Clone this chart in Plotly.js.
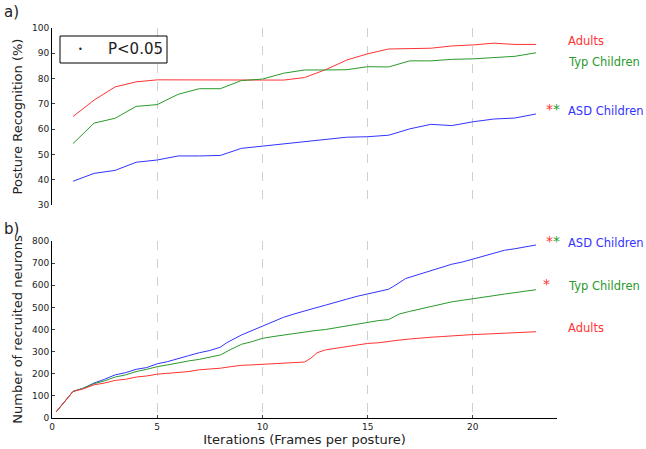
<!DOCTYPE html>
<html><head><script src="https://cdn.plot.ly/plotly-3.0.1.min.js"></script></head>
<body style="margin:0"><div id="chart" style="width:646px;height:449px"></div>
<script>
// panel a) posture recognition, x = 1..23
var itA = [1,2,3,4,5,6,7,8,9,10,11,12,13,14,15,16,17,18,19,20,21,22,23];
var recAdults = [65,71.5,76.7,78.7,79.5,79.5,79.5,79.3,79.3,79.3,79.4,80.4,83.5,87.3,89.8,91.7,91.9,92,92.9,93.3,94,93.5,93.5];
var recTyp = [54.3,62.4,64.3,69,69.7,73.8,76,76,79.2,79.8,82.1,83.4,83.4,83.5,84.7,84.6,87,87,87.6,87.8,88.3,88.8,90.2];
var recASD = [39.4,42.5,43.7,46.9,47.8,49.4,49.4,49.6,52.4,53.3,54.2,55.1,55.9,56.8,57,57.6,60.1,61.9,61.4,62.9,64,64.4,66];

// panel b) recruited neurons
var itASD = [0.2,1,1.5,2,2.5,3,3.5,4,4.5,5,5.5,6,6.5,7,7.5,8,8.3,9,9.5,10,10.5,11,11.5,12,12.5,13,13.5,14,14.5,15,15.5,16,16.4,16.8,17.3,18,18.5,19,19.5,20,20.5,21,21.5,22,22.5,23];
var neuASD = [28,120,135,158,175,195,205,220,228,245,255,270,282,295,305,320,340,375,395,418,435,455,470,482,497,510,525,537,550,560,570,582,605,630,645,665,678,695,705,718,730,745,758,765,775,782];
var itTyp = [0.2,1,1.5,2,2.5,3,3.5,4,4.5,5,5.5,6,6.5,7,7.5,8,8.5,9,9.5,10,10.5,11,11.5,12,12.5,13,13.5,14,14.5,15,15.5,16,16.5,17,17.5,18,18.5,19,19.5,20,20.5,21,21.5,22,22.5,23];
var neuTyp = [28,120,135,155,168,185,195,210,220,232,240,250,258,265,275,285,310,333,345,360,368,375,382,390,395,400,408,418,425,432,440,445,470,482,493,505,515,525,532,540,548,553,560,567,573,580];
var itAd = [0.2,1,1.5,2,2.5,3,3.5,4,4.5,5,5.5,6,6.5,7,7.5,8,8.5,9,9.5,10,10.5,11,11.5,12,12.3,12.6,13,13.5,14,14.5,15,15.5,16,16.5,17,17.5,18,18.5,19,19.5,20,21,22,23];
var neuAd = [28,120,132,150,158,170,175,185,190,198,202,205,210,218,220,225,232,238,240,242,245,247,250,253,270,295,308,315,323,330,337,340,347,352,357,362,365,368,372,374,377,381,385,390];

var RED = '#ff3333', GREEN = '#2a9a2a', BLUE = '#3333ff';
function ln(x, y, c, ax) {
  return {x: x, y: y, type: 'scatter', mode: 'lines', line: {color: c, width: 1}, xaxis: ax[0], yaxis: ax[1], hoverinfo: 'none'};
}
var data = [
  ln(itA, recAdults, RED, ['x', 'y']), ln(itA, recTyp, GREEN, ['x', 'y']), ln(itA, recASD, BLUE, ['x', 'y']),
  ln(itASD, neuASD, BLUE, ['x2', 'y2']), ln(itTyp, neuTyp, GREEN, ['x2', 'y2']), ln(itAd, neuAd, RED, ['x2', 'y2'])
];
var grid = {showgrid: true, gridcolor: '#d0d0d0', griddash: 'dash', gridwidth: 1};
var fnt = {family: 'DejaVu Sans', size: 9, color: '#222'};
function note(text, px, py, size, color, anchor) {
  return {text: text, x: px/646, y: 1 - py/449, xref: 'paper', yref: 'paper', showarrow: false,
    xanchor: anchor || 'left', yanchor: 'middle', font: {size: size, color: color || '#222'}};
}
var stars = '<span style="color:' + RED + '">*</span><span style="color:' + GREEN + '">*</span>';
var layout = {
  width: 646, height: 449, showlegend: false,
  paper_bgcolor: '#fff', plot_bgcolor: '#fff',
  margin: {l: 0, r: 0, t: 0, b: 0},
  font: {family: 'DejaVu Sans', color: '#222'},
  xaxis: Object.assign({domain: [52/646, 557/646], range: [0, 24], anchor: 'y', showticklabels: false, ticks: '', showline: false, zeroline: false, tickvals: [5, 10, 15, 20]}, grid),
  yaxis: {domain: [1 - 205/449, 1 - 28/449], range: [30, 100], dtick: 10, anchor: 'x', showline: true, linecolor: '#000', ticks: 'inside', ticklen: 3, showgrid: false, zeroline: false, tickfont: fnt,
    title: {text: 'Posture Recognition (%)', font: {size: 13}, standoff: 6}},
  xaxis2: Object.assign({domain: [52/646, 557/646], range: [0, 24], anchor: 'y2', showline: true, linecolor: '#000', ticks: 'inside', ticklen: 3, tickvals: [0, 5, 10, 15, 20], zeroline: false, tickfont: fnt,
    title: {text: 'Iterations (Frames per posture)', font: {size: 13}, standoff: 4}}, grid),
  yaxis2: {domain: [1 - 418/449, 1 - 241/449], range: [0, 800], dtick: 100, anchor: 'x2', showline: true, linecolor: '#000', ticks: 'inside', ticklen: 3, showgrid: false, zeroline: false, tickfont: fnt,
    title: {text: 'Number of recruited neurons', font: {size: 13}, standoff: 6}},
  shapes: [{type: 'rect', xref: 'paper', yref: 'paper', x0: 60/646, x1: 167/646, y0: 1 - 63/449, y1: 1 - 36/449, line: {color: '#000', width: 1}}],
  annotations: [
    note('a)', 2, 12, 15),
    note('b)', 2, 229, 15),
    note('•', 80, 49, 8, null, 'center'),
    note('P<0.05', 106, 49, 15),
    note('Adults', 566, 41, 11.5, RED),
    note('Typ Children', 566, 62, 11.5, GREEN),
    note('ASD Children', 566, 111, 11.5, BLUE),
    note(stars, 562, 109, 14, null, 'right'),
    note('ASD Children', 566, 243, 11.5, BLUE),
    note(stars, 562, 241, 14, null, 'right'),
    note('Typ Children', 566, 286, 11.5, GREEN),
    note('*', 552, 284, 14, RED, 'right'),
    note('Adults', 566, 328, 11.5, RED)
  ]
};
Plotly.newPlot('chart', data, layout, {displayModeBar: false});
</script></body></html>
